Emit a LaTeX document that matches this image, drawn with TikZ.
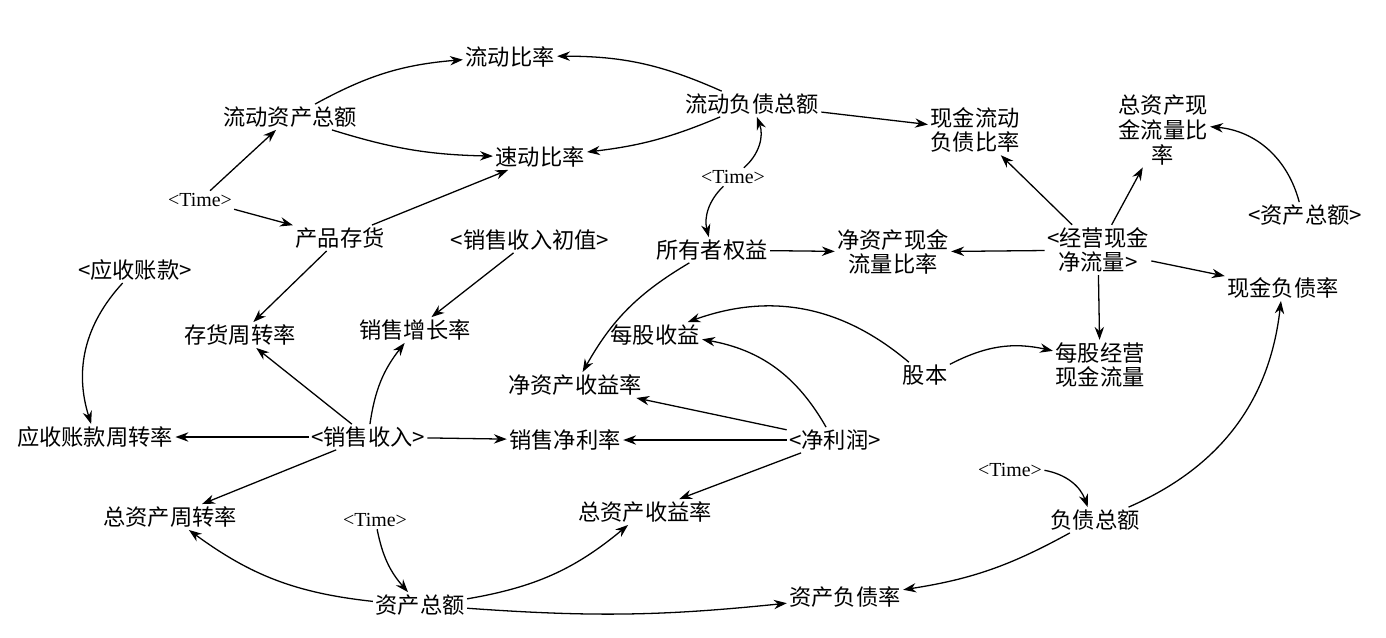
\documentclass[tikz,border=0pt]{standalone}
\usepackage{fontspec}
\setmainfont{Liberation Serif}
\newfontfamily\cjk{Noto Sans CJK SC}
\usetikzlibrary{arrows.meta}
\tikzset{
  var/.style={font=\cjk\fontsize{19}{21}\selectfont, align=center, inner sep=2pt},
  tm/.style={font=\rmfamily\fontsize{17}{19}\selectfont, inner sep=2pt},
  lnk/.style={-{Stealth[length=11pt,width=8pt]}, line width=1.1pt}
}
\begin{document}
\begin{tikzpicture}[x=0.03cm, y=-0.03cm]
    \useasboundingbox (0,0) rectangle (1386,638);
    % variabili
    \node[var] (cr) at (510,57) {流动比率};
    \node[var] (ca) at (290,117) {流动资产总额};
    \node[var] (cl) at (752,104) {流动负债总额};
    \node[var] (qr) at (540,157) {速动比率};
    \node[var] (ccl) at (975,130) {现金流动\\负债比率};
    \node[var] (tac) at (1163,130) {总资产现\\金流量比\\率};
    \node[tm] (t1) at (200,200) {<Time>};
    \node[var] (inv) at (340,238) {产品存货};
    \node[tm] (t2) at (733,177) {<Time>};
    \node[var] (si0) at (530,240) {<销售收入初值>};
    \node[var] (eq) at (712,250) {所有者权益};
    \node[var] (nac) at (893,252) {净资产现金\\流量比率};
    \node[var] (ocf) at (1098,250) {<经营现金\\净流量>};
    \node[var] (ta2) at (1305,215) {<资产总额>};
    \node[var] (ar) at (135,270) {<应收账款>};
    \node[var] (cdr) at (1283,288) {现金负债率};
    \node[var] (it) at (240,335) {存货周转率};
    \node[var] (sg) at (415,330) {销售增长率};
    \node[var] (eps) at (655,335) {每股收益};
    \node[var] (sc) at (925,375) {股本};
    \node[var] (cps) at (1100,365) {每股经营\\现金流量};
    \node[var] (roe) at (575,385) {净资产收益率};
    \node[var] (art) at (95,437) {应收账款周转率};
    \node[var] (si) at (368,437) {<销售收入>};
    \node[var] (npm) at (565,440) {销售净利率};
    \node[var] (np) at (835,440) {<净利润>};
    \node[tm] (t3) at (1010,470) {<Time>};
    \node[var] (tat) at (170,517) {总资产周转率};
    \node[tm] (t4) at (375,520) {<Time>};
    \node[var] (roa) at (645,512) {总资产收益率};
    \node[var] (td) at (1095,520) {负债总额};
    \node[var] (ta) at (420,605) {资产总额};
    \node[var] (dr) at (845,597) {资产负债率};
    % legami
    \draw[lnk] (ca) to[bend left=12] (cr);
    \draw[lnk] (cl) to[bend right=12] (cr);
    \draw[lnk] (ca) to[bend right=8] (qr);
    \draw[lnk] (cl) to[bend left=8] (qr);
    \draw[lnk] (cl) -- (ccl);
    \draw[lnk] (t1) -- (ca);
    \draw[lnk] (t1) -- (inv);
    \draw[lnk] (inv) -- (qr);
    \draw[lnk] (inv) -- (it);
    \draw[lnk] (t2) to[bend right=35] (cl);
    \draw[lnk] (t2) to[bend right=30] (eq);
    \draw[lnk] (si0) -- (sg);
    \draw[lnk] (eq) -- (nac);
    \draw[lnk] (eq) to[bend right=15] (roe);
    \draw[lnk] (ocf) -- (nac);
    \draw[lnk] (ocf) -- (ccl);
    \draw[lnk] (ocf) -- (tac);
    \draw[lnk] (ocf) -- (cdr);
    \draw[lnk] (ocf) -- (cps);
    \draw[lnk] (ta2) to[bend right=35] (tac);
    \draw[lnk] (ar) to[bend right=30] (art);
    \draw[lnk] (sc) to[bend right=30] (eps);
    \draw[lnk] (sc) to[bend left=20] (cps);
    \draw[lnk] (np) to[bend right=25] (eps);
    \draw[lnk] (np) -- (roe);
    \draw[lnk] (np) -- (npm);
    \draw[lnk] (np) -- (roa);
    \draw[lnk] (si) -- (it);
    \draw[lnk] (si) to[bend left=15] (sg);
    \draw[lnk] (si) -- (art);
    \draw[lnk] (si) -- (npm);
    \draw[lnk] (si) -- (tat);
    \draw[lnk] (t4) to[bend right=15] (ta);
    \draw[lnk] (ta) to[bend left=15] (tat);
    \draw[lnk] (ta) to[bend right=15] (roa);
    \draw[lnk] (ta) to[bend right=5] (dr);
    \draw[lnk] (t3) to[bend left=30] (td);
    \draw[lnk] (td) to[bend left=10] (dr);
    \draw[lnk] (td) to[bend right=30] (cdr);
\end{tikzpicture}
\end{document}
